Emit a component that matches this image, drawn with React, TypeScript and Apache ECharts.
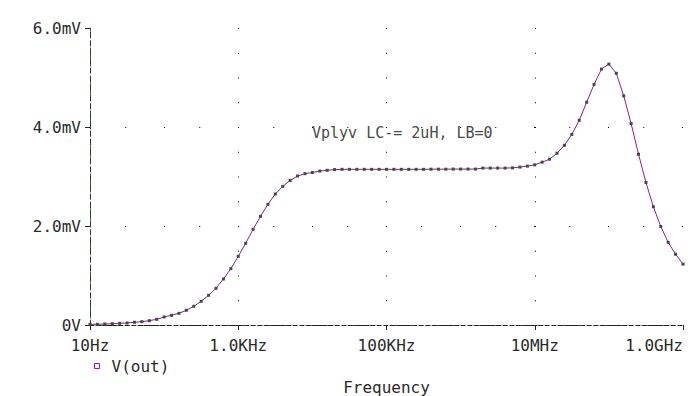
import React, { useEffect, useRef } from 'react';
import * as echarts from 'echarts';

// Axis tick labels
const xTickLabels = ['10Hz', '1.0KHz', '100KHz', '10MHz', '1.0GHz'];
const yTickLabels = ['0V', '2.0mV', '4.0mV', '6.0mV'];
const seriesName = 'V(out)';
const xAxisTitle = 'Frequency';
const annotation = 'Vplyv LC-= 2uH, LB=0';

// Sweep: 10 points per decade, starting at 10 Hz (x = decades above 10 Hz)
const pointsPerDecade = 10;

// V(out) in mV
const vOut10HzTo1kHz = [
  0.014, 0.014, 0.02, 0.026, 0.034, 0.04, 0.055, 0.067, 0.087, 0.115,
  0.162, 0.196, 0.236, 0.297, 0.378, 0.479, 0.6, 0.742, 0.929, 1.137, 1.388,
];
const vOut1kHzTo100kHz = [
  1.65, 1.933, 2.196, 2.438, 2.646, 2.8, 2.92, 3.01, 3.057, 3.08,
  3.11, 3.125, 3.14, 3.145, 3.145, 3.145, 3.145, 3.145, 3.145, 3.145,
];
const vOut100kHzTo10MHz = [
  3.145, 3.145, 3.145, 3.145, 3.145, 3.148, 3.148, 3.148, 3.15, 3.15,
  3.15, 3.15, 3.17, 3.17, 3.17, 3.17, 3.175, 3.19, 3.21, 3.235,
];
const vOut10MHzTo1GHz = [
  3.29, 3.35, 3.47, 3.63, 3.85, 4.135, 4.5, 4.86, 5.17, 5.27,
  5.085, 4.63, 4.07, 3.45, 2.88, 2.39, 1.99, 1.67, 1.43, 1.23,
];

const vOut = [...vOut10HzTo1kHz, ...vOut1kHzTo100kHz, ...vOut100kHzTo10MHz, ...vOut10MHzTo1GHz];

const MONO = '"DejaVu Sans Mono", "Liberation Mono", monospace';

export default function App() {
  const ref = useRef<HTMLDivElement>(null);
  useEffect(() => {
    if (!ref.current) return;
    const chart = echarts.init(ref.current, undefined, { renderer: 'svg' });
    const data = vOut.map((v, i) => [i / pointsPerDecade, v]);
    const labelStyle = { fontFamily: MONO, fontSize: 16, color: '#2a2a2a' };
    chart.setOption({
      animation: false,
      backgroundColor: '#ffffff',
      grid: { left: 90, right: 8, top: 28, bottom: 71, containLabel: false, outerBoundsMode: 'none' },
      legend: {
        left: 94,
        top: 358,
        padding: 0,
        data: [{ name: seriesName, icon: 'rect' }],
        itemWidth: 5,
        itemHeight: 5,
        itemStyle: { color: 'transparent', borderColor: '#c000c0', borderWidth: 1 },
        textStyle: { ...labelStyle, padding: [0, 0, 0, 7] },
        selectedMode: false,
      },
      xAxis: [
        {
          type: 'value',
          min: 0,
          max: 8,
          interval: 2,
          name: xAxisTitle,
          nameLocation: 'middle',
          nameGap: 54,
          nameTextStyle: labelStyle,
          axisLine: { show: true, lineStyle: { color: '#222', type: [4, 3], width: 1 } },
          axisTick: { show: true, length: 5, lineStyle: { color: '#222' } },
          axisLabel: {
            ...labelStyle,
            margin: 12,
            alignMaxLabel: 'right',
            formatter: (v: number) => xTickLabels[Math.round(v / 2)] ?? '',
          },
          splitLine: {
            show: true,
            showMinLine: false,
            showMaxLine: false,
            lineStyle: { color: '#000', width: 1, type: [1, 23.75] },
          },
        },
        {
          type: 'value',
          position: 'top',
          min: 0,
          max: 8,
          interval: 2,
          axisLine: { show: true, lineStyle: { color: '#222', type: [3, 3], width: 1 } },
          axisTick: { show: false },
          axisLabel: { show: false },
          splitLine: { show: false },
        },
      ],
      yAxis: [
        {
          type: 'value',
          min: 0,
          max: 6,
          interval: 2,
          axisLine: { show: true, lineStyle: { color: '#2f6a2f', type: [4, 3], width: 1 } },
          axisTick: { show: true, length: 5, lineStyle: { color: '#222' } },
          axisLabel: {
            ...labelStyle,
            margin: 9,
            formatter: (v: number) => yTickLabels[Math.round(v / 2)] ?? '',
          },
          splitLine: {
            show: true,
            showMinLine: false,
            showMaxLine: false,
            lineStyle: { color: '#000', width: 1, type: [1, 34.28, 1, 37.72] },
          },
        },
        {
          type: 'value',
          position: 'right',
          min: 0,
          max: 6,
          interval: 2,
          axisLine: { show: true, lineStyle: { color: '#333', type: [5, 4], width: 1 } },
          axisTick: { show: false },
          axisLabel: { show: false },
          splitLine: { show: false },
        },
      ],
      series: [
        {
          name: seriesName,
          type: 'line',
          data,
          xAxisIndex: 0,
          yAxisIndex: 0,
          symbol: 'rect',
          symbolSize: 3,
          showSymbol: true,
          itemStyle: { color: '#3e4e3e' },
          lineStyle: { color: '#9a169a', width: 1 },
          z: 3,
        },
      ],
      graphic: [
        {
          type: 'text',
          left: 312,
          top: 125,
          style: {
            text: annotation,
            fontFamily: MONO,
            fontSize: 15,
            fill: '#4a4a4a',
          },
        },
      ],
    });
    return () => chart.dispose();
  }, []);
  return (
    <div
      ref={ref}
      style={{ position: 'fixed', left: 0, top: 0, width: 691, height: 396, background: '#fff' }}
    />
  );
}
